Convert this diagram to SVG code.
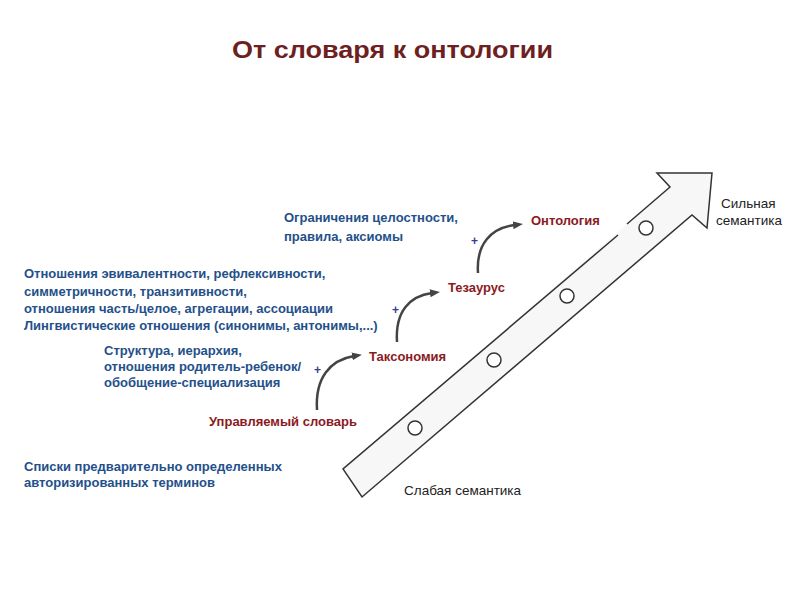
<svg xmlns="http://www.w3.org/2000/svg" width="800" height="600" viewBox="0 0 800 600">
<style>
text{font-family:"Liberation Sans",Arial,sans-serif}
.title{font-size:24px;font-weight:bold;fill:#6e1f1f}
.blue{font-size:13px;font-weight:bold;fill:#24508a}
.red{font-size:13px;font-weight:bold;fill:#8b1a22}
.blk{font-size:13.5px;fill:#222}
.plus{font-size:12px;fill:#3b3b8c;font-weight:bold}
.curve{fill:none;stroke:#444;stroke-width:2.5}
.edge{fill:none;stroke:#333;stroke-width:1.5;stroke-linejoin:miter}
.dot{fill:#fff;stroke:#333;stroke-width:1.5}
</style>
<defs>
<marker id="ah" markerWidth="10" markerHeight="8" refX="2" refY="4" orient="auto" markerUnits="userSpaceOnUse">
<polygon points="0,0 10,4 0,8" fill="#444"/>
</marker>
</defs>
<rect width="800" height="600" fill="#fff"/>
<text class="title" x="232" y="58" textLength="321" lengthAdjust="spacingAndGlyphs">От словаря к онтологии</text>

<g id="scale-arrow">
<polygon points="343,469 670,187 657,173 712,173 707,228 692,215 362,497" fill="#f7f7f7"/>
<path class="edge" d="M618,235 L343,469 L362,497 L692,215 L707,228 L712,173 L657,173 L670,187 L627,224"/>
<circle class="dot" cx="415" cy="428" r="7"/>
<circle class="dot" cx="494" cy="360" r="7"/>
<circle class="dot" cx="567" cy="296" r="7"/>
<circle class="dot" cx="646" cy="228" r="7"/>
</g>

<g id="connectors">
<path class="curve" d="M317,410 C315,378 330,360 354,356" marker-end="url(#ah)"/>
<path class="curve" d="M397,342 C395,311 410,296 432,293" marker-end="url(#ah)"/>
<path class="curve" d="M478,273 C476,244 491,228 515,225" marker-end="url(#ah)"/>
</g>

<g id="node-vocab">
<text class="red" x="209" y="426">Управляемый словарь</text>
</g>
<g id="node-taxonomy">
<text class="red" x="369" y="361">Таксономия</text>
</g>
<g id="node-thesaurus">
<text class="red" x="448" y="292">Тезаурус</text>
</g>
<g id="node-ontology">
<text class="red" x="531" y="225">Онтология</text>
</g>

<g id="desc-lists">
<text class="blue" x="24" y="471">Списки предварительно определенных</text>
<text class="blue" x="24" y="487">авторизированных терминов</text>
</g>
<g id="desc-structure">
<text class="blue" x="104" y="355">Структура, иерархия,</text>
<text class="blue" x="104" y="371">отношения родитель-ребенок/</text>
<text class="blue" x="104" y="387">обобщение-специализация</text>
<text class="plus" x="314" y="374">+</text>
</g>
<g id="desc-relations">
<text class="blue" x="24" y="278">Отношения эвивалентности, рефлексивности,</text>
<text class="blue" x="24" y="296">симметричности, транзитивности,</text>
<text class="blue" x="24" y="313">отношения часть/целое, агрегации, ассоциации</text>
<text class="blue" x="24" y="330">Лингвистические отношения (синонимы,  антонимы,...)</text>
<text class="plus" x="392" y="314">+</text>
</g>
<g id="desc-constraints">
<text class="blue" x="284" y="222">Ограничения целостности,</text>
<text class="blue" x="284" y="241">правила, аксиомы</text>
<text class="plus" x="471" y="245">+</text>
</g>

<g id="labels">
<text class="blk" x="404" y="495">Слабая семантика</text>
<text class="blk" x="721" y="208">Сильная</text>
<text class="blk" x="716" y="225">семантика</text>
</g>
</svg>
